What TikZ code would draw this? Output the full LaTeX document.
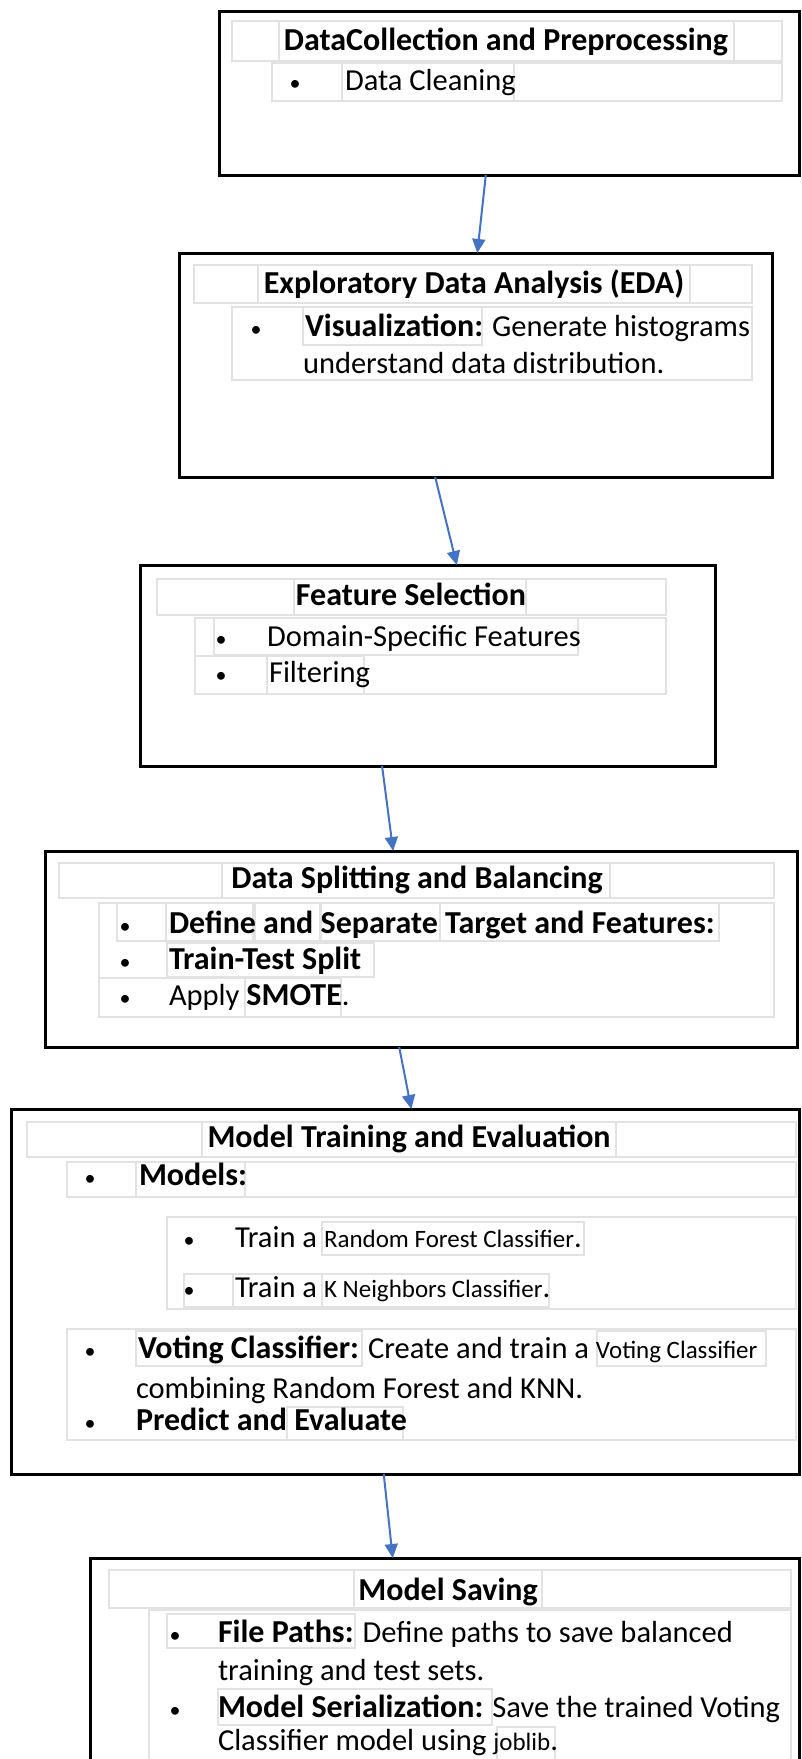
\documentclass[tikz,border=0pt]{standalone}
\usepackage{fontspec}
\setmainfont{Carlito}
\usetikzlibrary{arrows.meta,calc}
\definecolor{cellgray}{RGB}{226,226,226}
\definecolor{arrowblue}{RGB}{68,114,196}
\newcommand{\txtbold}[1]{{\fontsize{32}{36}\selectfont\bfseries #1}}
\newcommand{\txtsmall}[1]{{\fontsize{25}{30}\selectfont #1}}
\tikzset{
  box/.style={draw=black, line width=3pt, outer sep=0pt, inner sep=0pt, anchor=north west},
  cell/.style={draw=cellgray, line width=2.5pt},
  lbl/.style={anchor=base west, inner sep=0pt, outer sep=0pt, font=\fontsize{30.5}{36}\selectfont},
  ttl/.style={anchor=base, inner sep=0pt, outer sep=0pt, font=\fontsize{32}{36}\selectfont\bfseries},
  bul/.style={anchor=base, inner sep=0pt, outer sep=0pt, font=\fontsize{22}{26}\selectfont},
  flow/.style={draw=arrowblue, line width=2pt, -{Triangle[length=14pt,width=13pt]}}
}
\begin{document}
\begin{tikzpicture}[x=1pt,y=-1pt]
\useasboundingbox (0,0) rectangle (802,1759);
\clip (0,0) rectangle (802,1759);
\fill[white] (0,0) rectangle (802,1759);

% ---------- gray table cells ----------
% box 1
\draw[cell] (232,21) rectangle (279,61);
\draw[cell] (279,21) rectangle (734,61);
\draw[cell] (734,21) rectangle (782,61);
\draw[cell] (272,63) rectangle (342,101);
\draw[cell] (342,63) rectangle (514,101);
\draw[cell] (514,63) rectangle (782,101);
% box 2
\draw[cell] (194,265) rectangle (258,303);
\draw[cell] (258,265) rectangle (690,303);
\draw[cell] (690,265) rectangle (752,303);
\draw[cell] (232,307) rectangle (752,380);
\draw[cell] (303,307) rectangle (482,345);
% box 3
\draw[cell] (157,579) rectangle (294,615);
\draw[cell] (294,579) rectangle (526,615);
\draw[cell] (526,579) rectangle (666,615);
\draw[cell] (195,618) rectangle (666,694);
\draw[cell] (214,618) rectangle (578,655);
\draw[cell] (195,656) rectangle (267,694);
\draw[cell] (267,656) rectangle (364,694);
% box 4
\draw[cell] (59,863) rectangle (222,898);
\draw[cell] (222,863) rectangle (610,898);
\draw[cell] (610,863) rectangle (774,898);
\draw[cell] (99,903) rectangle (774,1017);
\draw[cell] (117,903) rectangle (166,941);
\draw[cell] (166,903) rectangle (253,941);
\draw[cell] (255,903) rectangle (320,941);
\draw[cell] (321,903) rectangle (440,941);
\draw[cell] (440,903) rectangle (719,941);
\draw[cell] (167,943) rectangle (374,977);
\draw[cell] (99,978) rectangle (245,1017);
\draw[cell] (245,978) rectangle (341,1017);
% box 5
\draw[cell] (27,1122) rectangle (202,1157);
\draw[cell] (202,1122) rectangle (616,1157);
\draw[cell] (616,1122) rectangle (796,1157);
\draw[cell] (67,1162) rectangle (136,1197);
\draw[cell] (136,1162) rectangle (245,1197);
\draw[cell] (245,1162) rectangle (796,1197);
\draw[cell] (167,1217) rectangle (796,1309);
\draw[cell] (322,1222) rectangle (584,1255);
\draw[cell] (184,1274) rectangle (233,1307);
\draw[cell] (233,1274) rectangle (322,1307);
\draw[cell] (322,1274) rectangle (549,1307);
\draw[cell] (67,1329) rectangle (796,1440);
\draw[cell] (136,1331) rectangle (362,1366);
\draw[cell] (597,1331) rectangle (766,1366);
\draw[cell] (287,1407) rectangle (403,1440);
% box 6
\draw[cell] (109,1570) rectangle (354,1608);
\draw[cell] (354,1570) rectangle (542,1608);
\draw[cell] (542,1570) rectangle (791,1608);
\draw[cell] (149,1610) rectangle (791,1800);
\draw[cell] (167,1614) rectangle (355,1648);
\draw[cell] (218,1689) rectangle (492,1725);
\draw[cell] (497,1727) rectangle (555,1800);

% ---------- texts ----------
% box 1
\node[ttl] (t1) at (506,50) {DataCollection and Preprocessing};
\node[bul] (t1b1) at (295,90) {\textbullet};
\node[lbl] (t1l1) at (345,90) {Data Cleaning};
% box 2
\node[ttl] (t2) at (474,293) {Exploratory Data Analysis (EDA)};
\node[bul] (t2b1) at (256,336) {\textbullet};
\node[lbl] (t2l1) at (305,336) {\txtbold{Visualization:} Generate histograms};
\node[lbl] (t2l2) at (303,373) {understand data distribution.};
% box 3
\node[ttl] (t3) at (411,605) {Feature Selection};
\node[bul] (t3b1) at (221,646) {\textbullet};
\node[lbl] (t3l1) at (267,646) {Domain-Specific Features};
\node[bul] (t3b2) at (221,682) {\textbullet};
\node[lbl] (t3l2) at (269,682) {Filtering};
% box 4
\node[ttl] (t4) at (417,888) {Data Splitting and Balancing};
\node[bul] (t4b1) at (125,933) {\textbullet};
\node[lbl] (t4l1) at (169,933) {\txtbold{Define and Separate Target and Features:}};
\node[bul] (t4b2) at (125,969) {\textbullet};
\node[lbl] (t4l2) at (169,969) {\txtbold{Train-Test Split}};
\node[bul] (t4b3) at (125,1005) {\textbullet};
\node[lbl] (t4l3) at (169,1005) {Apply \txtbold{SMOTE}.};
% box 5
\node[ttl] (t5) at (409,1147) {Model Training and Evaluation};
\node[bul] (t5b1) at (90,1185) {\textbullet};
\node[lbl] (t5l1) at (139,1185) {\txtbold{Models:}};
\node[bul] (t5b2) at (189,1247) {\textbullet};
\node[lbl] (t5l2) at (235,1247) {Train a \txtsmall{Random Forest Classifier}.};
\node[bul] (t5b3) at (189,1297) {\textbullet};
\node[lbl] (t5l3) at (235,1297) {Train a \txtsmall{K Neighbors Classifier}.};
\node[bul] (t5b4) at (90,1358) {\textbullet};
\node[lbl] (t5l4) at (138,1358) {\txtbold{Voting Classifier:} Create and train a \txtsmall{Voting Classifier}};
\node[lbl] (t5l5) at (136,1398) {combining Random Forest and KNN.};
\node[bul] (t5b5) at (90,1430) {\textbullet};
\node[lbl] (t5l6) at (136,1430) {\txtbold{Predict and Evaluate}};
% box 6
\node[ttl] (t6) at (448,1600) {Model Saving};
\node[bul] (t6b1) at (175,1642) {\textbullet};
\node[lbl] (t6l1) at (218,1642) {\txtbold{File Paths:} Define paths to save balanced};
\node[lbl] (t6l2) at (218,1680) {training and test sets.};
\node[bul] (t6b2) at (175,1717) {\textbullet};
\node[lbl] (t6l3) at (218,1717) {\txtbold{Model Serialization:} Save the trained Voting};
\node[lbl] (t6l4) at (218,1750) {Classifier model using \txtsmall{joblib}.};

% ---------- boxes ----------
\node[box, minimum width=580pt, minimum height=164pt] (b1) at (219,11) {};
\node[box, minimum width=593pt, minimum height=224pt] (b2) at (179,253) {};
\node[box, minimum width=575pt, minimum height=201pt] (b3) at (140,565) {};
\node[box, minimum width=752pt, minimum height=196pt] (b4) at (45,851) {};
\node[box, minimum width=788pt, minimum height=365pt] (b5) at (11,1109) {};
\node[box, minimum width=709pt, minimum height=240pt] (b6) at (90,1558) {};

% ---------- arrows ----------
\draw[flow] ($(b1.south west)!0.460!(b1.south east)$) -- ($(b2.north west)!0.503!(b2.north east)$);
\draw[flow] ($(b2.south west)!0.432!(b2.south east)$) -- ($(b3.north west)!0.551!(b3.north east)$);
\draw[flow] ($(b3.south west)!0.421!(b3.south east)$) -- ($(b4.north west)!0.463!(b4.north east)$);
\draw[flow] ($(b4.south west)!0.471!(b4.south east)$) -- ($(b5.north west)!0.508!(b5.north east)$);
\draw[flow] ($(b5.south west)!0.473!(b5.south east)$) -- ($(b6.north west)!0.427!(b6.north east)$);
\end{tikzpicture}
\end{document}
